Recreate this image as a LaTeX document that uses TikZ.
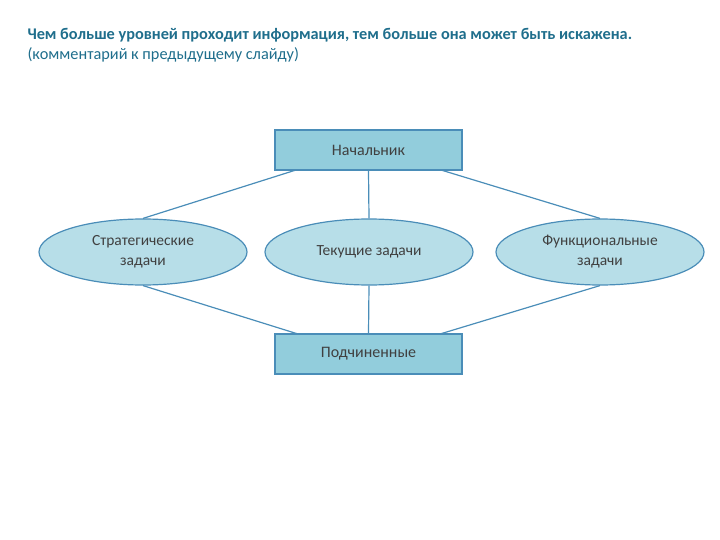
\documentclass[tikz,border=0pt]{standalone}
\usepackage{fontspec}
\setmainfont{Carlito}
\usetikzlibrary{shapes.geometric}
\definecolor{ttl}{HTML}{1F6E8C}
\definecolor{boxfill}{HTML}{92CDDC}
\definecolor{ellfill}{HTML}{B7DEE8}
\definecolor{edge}{HTML}{4A8DB8}
\definecolor{txt}{HTML}{404040}
\begin{document}
\begin{tikzpicture}[x=1pt,y=-1pt,
  rbox/.style={draw=edge,line width=1.2pt,fill=boxfill,minimum width=187pt,minimum height=40pt,inner sep=0pt,font=\fontsize{16}{18}\selectfont,text=txt},
  ell/.style={draw=edge,line width=1.2pt,fill=ellfill,ellipse,minimum width=208pt,minimum height=66pt,inner sep=0pt,align=center,font=\fontsize{15.5}{20}\selectfont,text=txt},
  conn/.style={draw=edge,line width=1.2pt}]
\useasboundingbox (0,0) rectangle (720,540);
\node[anchor=west,text=ttl,font=\fontsize{16.3}{19}\selectfont\bfseries] (t1) at (24,35) {Чем больше уровней проходит информация, тем больше она может быть искажена.};
\node[anchor=west,text=ttl,font=\fontsize{16.3}{19}\selectfont] (t2) at (24,55) {(комментарий к предыдущему слайду)};
\node[rbox] (boss) at (368.5,150) {Начальник};
\node[rbox] (sub) at (368.5,354) {Подчиненные};
\node[ell] (e1) at (143,252) {Стратегические\\задачи};
\node[ell] (e2) at (369,252) {Текущие задачи};
\node[ell] (e3) at (600,252) {Функциональные\\задачи};
\coordinate (b1) at (296,170); \coordinate (b3) at (441,170);
\coordinate (s1) at (298,334); \coordinate (s3) at (440,334);
\draw[conn] (b1) -- (e1.north);
\draw[conn] (boss.south) -- (e2.north);
\draw[conn] (b3) -- (e3.north);
\draw[conn] (e1.south) -- (s1);
\draw[conn] (e2.south) -- (sub.north);
\draw[conn] (e3.south) -- (s3);
\end{tikzpicture}
\end{document}
